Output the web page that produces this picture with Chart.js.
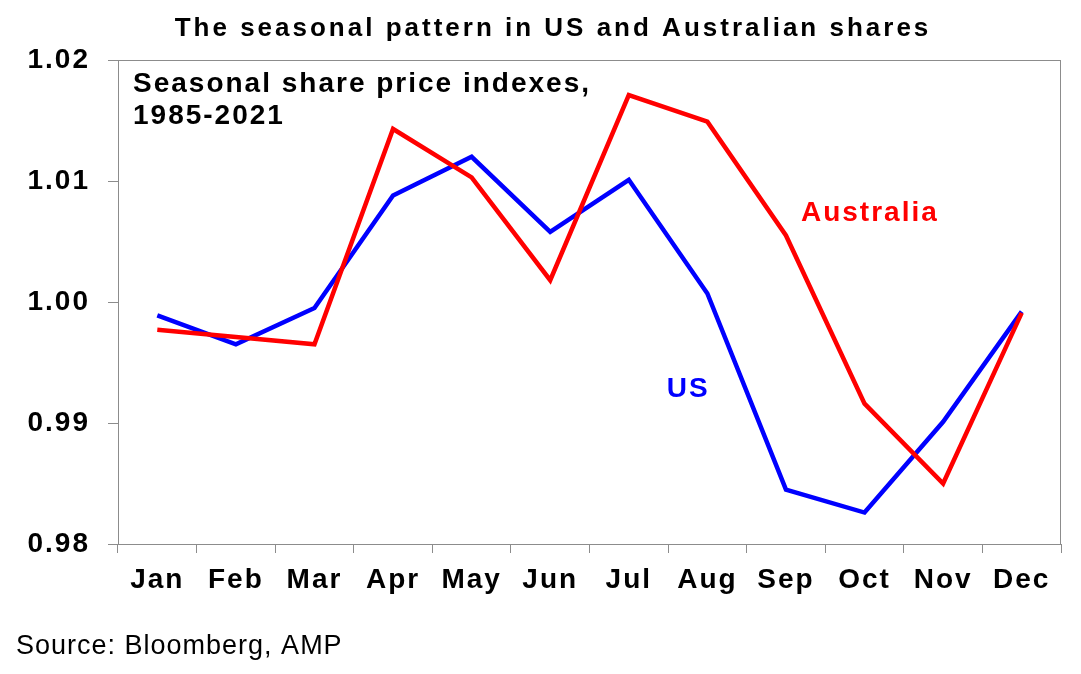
<!DOCTYPE html>
<html lang="en">
<head>
    <meta charset="UTF-8">
    <title>Seasonal pattern in US and Australian shares</title>
    <style>
        html, body { margin: 0; padding: 0; background: #fff; }
        #wrap { width: 1081px; height: 674px; position: relative; }
    </style>
    <script src="https://cdn.jsdelivr.net/npm/chart.js"></script>
</head>
<body>
  <div id="wrap"><canvas id="chart"></canvas></div>
  <script>
    // data
    const months = ['Jan', 'Feb', 'Mar', 'Apr', 'May', 'Jun', 'Jul', 'Aug', 'Sep', 'Oct', 'Nov', 'Dec'];
    const usIndex = [0.9989, 0.9965, 0.9995, 1.0088, 1.0120, 1.0058, 1.0101, 1.0007, 0.9845, 0.9826, 0.9901, 0.9992];
    const ausIndex = [0.9977, 0.9971, 0.9965, 1.0143, 1.0103, 1.0018, 1.0171, 1.0149, 1.0055, 0.9916, 0.9850, 0.9991];
    const yTicks = [0.98, 0.99, 1.00, 1.01, 1.02];

    const FONT = 'Arial, "Liberation Sans", sans-serif';
    const AXIS_GREY = '#8c8c8c';

    // the reference text is set a bit wider than Liberation Sans
    const spacingPlugin = {
        id: 'spacing',
        beforeDraw(chart) { chart.ctx.letterSpacing = '2px'; }
    };

    // titles, in-plot notes, plot border
    const textPlugin = {
        id: 'texts',
        afterDraw(chart) {
            const ctx = chart.ctx;
            const area = chart.chartArea;
            const x = chart.scales.x, y = chart.scales.y;
            ctx.save();
            ctx.strokeStyle = AXIS_GREY;
            ctx.lineWidth = 1;
            ctx.strokeRect(area.left + 0.5, area.top + 0.5, area.right - area.left - 1, area.bottom - area.top);

            ctx.textBaseline = 'alphabetic';
            ctx.fillStyle = '#000';
            ctx.letterSpacing = '3px';
            ctx.font = 'bold 26px ' + FONT;
            ctx.textAlign = 'center';
            ctx.fillText('The seasonal pattern in US and Australian shares', 553, 36);

            ctx.letterSpacing = '2px';
            ctx.textAlign = 'left';
            ctx.font = 'bold 28px ' + FONT;
            ctx.fillText('Seasonal share price indexes,', area.left + 15, 92);
            ctx.fillText('1985-2021', area.left + 15, 124);

            ctx.fillStyle = '#ff0000';
            ctx.fillText('Australia', x.getPixelForValue(8) + 15, y.getPixelForValue(1.0074) + 9);
            ctx.fillStyle = '#0000ff';
            ctx.fillText('US', x.getPixelForValue(6) + 38, y.getPixelForValue(0.9929) + 9);

            ctx.fillStyle = '#000';
            ctx.letterSpacing = '1px';
            ctx.font = '27px ' + FONT;
            ctx.fillText('Source: Bloomberg, AMP', 16, 654);
            ctx.restore();
        }
    };

    const ctx = document.getElementById('chart').getContext('2d');
    const chart = new Chart(ctx, {
        type: 'line',
        data: {
            labels: months,
            datasets: [{
                label: 'Australia',
                data: ausIndex,
                borderColor: '#ff0000',
                borderWidth: 4.5,
                pointRadius: 0,
                tension: 0,
                fill: false
            }, {
                label: 'US',
                data: usIndex,
                borderColor: '#0000ff',
                borderWidth: 4.5,
                pointRadius: 0,
                tension: 0,
                fill: false
            }]
        },
        options: {
            responsive: true,
            maintainAspectRatio: false,
            animation: false,
            layout: { padding: { top: 60, right: 20, bottom: 70, left: 0 } },
            plugins: {
                legend: { display: false },
                title: { display: false },
                tooltip: { enabled: false }
            },
            scales: {
                x: {
                    offset: true,
                    grid: {
                        offset: true,
                        drawOnChartArea: false,
                        drawTicks: true,
                        tickLength: 9,
                        color: AXIS_GREY
                    },
                    border: { color: AXIS_GREY },
                    ticks: {
                        color: '#000',
                        font: { family: FONT, size: 28, weight: 'bold' },
                        padding: 10,
                        maxRotation: 0,
                        autoSkip: false
                    },
                    afterFit(scale) { scale.height = 60; }
                },
                y: {
                    min: 0.98,
                    max: 1.02,
                    afterBuildTicks(scale) {
                        scale.ticks = yTicks.map(v => ({ value: v }));
                    },
                    grid: {
                        drawOnChartArea: false,
                        drawTicks: true,
                        tickLength: 10,
                        color: AXIS_GREY
                    },
                    border: { color: AXIS_GREY },
                    ticks: {
                        color: '#000',
                        font: { family: FONT, size: 28, weight: 'bold' },
                        padding: 18,
                        callback: v => v.toFixed(2)
                    },
                    afterFit(scale) { scale.width = 118; }
                }
            }
        },
        plugins: [spacingPlugin, textPlugin]
    });
  </script>
</body>
</html>
